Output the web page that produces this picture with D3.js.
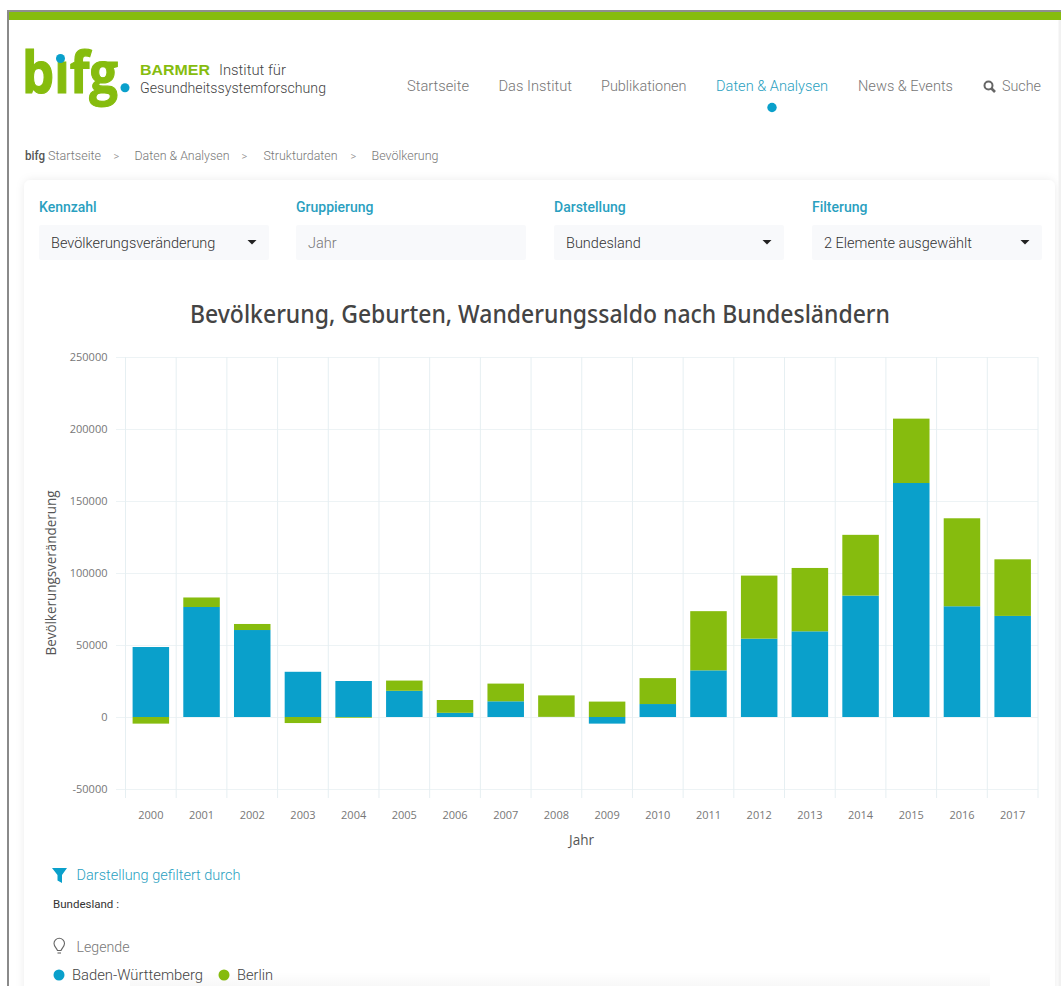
<!DOCTYPE html>
<html lang="de"><head><meta charset="utf-8">
<style>
html,body{margin:0;padding:0;background:#fff;overflow:hidden}
svg{display:block}
text{font-family:"Roboto",sans-serif;font-weight:300}
</style>
<script src="https://cdn.jsdelivr.net/npm/d3@7"></script>
</head><body><svg id="c" width="1061" height="986"></svg>
<script>
const years = ["2000","2001","2002","2003","2004","2005","2006","2007","2008","2009","2010","2011","2012","2013","2014","2015","2016","2017"];
const badenWuerttemberg = [48600,76400,60400,31400,25000,18200,2900,10900,100,-4600,9000,32400,54400,59500,84300,162500,76900,70200];
const berlin = [-4600,6600,4200,-4200,-500,7100,8900,12300,14900,10700,18000,41100,43800,44000,42200,44700,61100,39300];
const yTicks = [-50000,0,50000,100000,150000,200000,250000];
const seriesNames = ["Baden-Württemberg","Berlin"];
const seriesColors = ["#0aa0cb","#86bc0e"];
const navItems = [["Startseite",407,62],["Das Institut",498.5,73.5],["Publikationen",601,85.5],["Daten & Analysen",716,112],["News & Events",858,95],["Suche",1002,39]];
const crumbs = [["Startseite",48,53],["Daten & Analysen",134.5,95],["Strukturdaten",263.5,74],["Bevölkerung",371.5,67]];
const crumbSeps = [[113.5],[241.5],[350.5]];
const filters = [["Kennzahl","Bevölkerungsveränderung",39,230,true],["Gruppierung","Jahr",296,230,false],["Darstellung","Bundesland",554,230,true],["Filterung","2 Elemente ausgewählt",812,230,true]];

const svg = d3.select("#c");
const defs = svg.append("defs");
const f = defs.append("filter").attr("id","sh").attr("x","-5%").attr("y","-5%").attr("width","110%").attr("height","110%");
f.append("feDropShadow").attr("dx",0).attr("dy",0).attr("stdDeviation",4).attr("flood-color","#000").attr("flood-opacity",0.08);

// page frame
svg.append("rect").attr("x",8).attr("y",11).attr("width",1053).attr("height",975).attr("fill","#fff");
svg.append("rect").attr("x",7).attr("y",10).attr("width",2).attr("height",976).attr("fill","#8a8a8a");
svg.append("rect").attr("x",7).attr("y",10).attr("width",1054).attr("height",2).attr("fill","#8f8f8f");
svg.append("rect").attr("x",9).attr("y",12).attr("width",1052).attr("height",8).attr("fill","#86bc0e");

// card
svg.append("rect").attr("x",24).attr("y",180).attr("width",1031).attr("height",830).attr("rx",7).attr("fill","#fff").attr("filter","url(#sh)");
svg.append("rect").attr("x",0).attr("y",0).attr("width",7).attr("height",986).attr("fill","#fff");
svg.append("rect").attr("x",1058.5).attr("y",20).attr("width",2.5).attr("height",966).attr("fill","#f1f1f1");

// logo
const logo = svg.append("g");
logo.append("text").attr("x",22).attr("y",93).attr("font-size",57).attr("fill","#86bc0e").attr("stroke","#86bc0e").attr("stroke-width",1.2)
  .style("font-family","'Open Sans'").style("font-weight",700).attr("textLength",96).attr("lengthAdjust","spacingAndGlyphs").text("bıfg");
logo.append("circle").attr("cx",60.5).attr("cy",58.5).attr("r",4.5).attr("fill","#0aa0cb");
logo.append("circle").attr("cx",125).attr("cy",87.7).attr("r",4.5).attr("fill","#0aa0cb");
logo.append("text").attr("x",140).attr("y",75).attr("font-size",14).attr("fill","#86bc0e").style("font-family","'Liberation Sans'").style("font-weight",700).attr("textLength",70).attr("lengthAdjust","spacingAndGlyphs").text("BARMER");
logo.append("text").attr("x",219).attr("y",75).attr("font-size",15).attr("fill","#444").attr("textLength",67).attr("lengthAdjust","spacingAndGlyphs").text("Institut für");
logo.append("text").attr("x",140).attr("y",93).attr("font-size",15).attr("fill","#444").attr("textLength",186).attr("lengthAdjust","spacingAndGlyphs").text("Gesundheitssystemforschung");

// navigation
svg.append("g").selectAll("text").data(navItems).join("text")
  .attr("x",d=>d[1]).attr("y",91).attr("font-size",14.5)
  .attr("textLength",d=>d[2]).attr("lengthAdjust","spacingAndGlyphs")
  .attr("fill",d=>d[0]==="Daten & Analysen"?"#2a9fbf":"#767676").text(d=>d[0]);
svg.append("circle").attr("cx",772).attr("cy",107.5).attr("r",4.7).attr("fill","#0aa0cb");
const mag = svg.append("g").attr("fill","none").attr("stroke","#666");
mag.append("circle").attr("cx",988.5).attr("cy",85.5).attr("r",4).attr("stroke-width",2);
mag.append("line").attr("x1",991.5).attr("y1",88.5).attr("x2",995).attr("y2",92).attr("stroke-width",2.6);

// breadcrumbs
svg.append("text").attr("x",25).attr("y",160).attr("font-size",12).attr("fill","#555").style("font-weight",500).attr("textLength",20).attr("lengthAdjust","spacingAndGlyphs").text("bifg");
svg.append("g").selectAll("text").data(crumbs).join("text")
  .attr("x",d=>d[1]).attr("y",160).attr("font-size",12).attr("fill","#777")
  .attr("textLength",d=>d[2]).attr("lengthAdjust","spacingAndGlyphs").text(d=>d[0]);
svg.append("g").selectAll("text").data(crumbSeps).join("text")
  .attr("x",d=>d[0]).attr("y",160).attr("font-size",11).attr("fill","#888").text(">");

// filter controls
const fg = svg.append("g").selectAll("g").data(filters).join("g");
fg.append("text").attr("x",d=>d[2]).attr("y",212).attr("font-size",14).attr("fill","#2a9fbf").style("font-weight",500).text(d=>d[0]);
fg.append("rect").attr("x",d=>d[2]).attr("y",225).attr("width",d=>d[3]).attr("height",35).attr("rx",2).attr("fill","#f8f9fb");
fg.append("text").attr("x",d=>d[2]+12).attr("y",247.5).attr("font-size",14.5).attr("fill",d=>d[4]?"#333":"#777").text(d=>d[1]);
fg.filter(d=>d[4]).append("path").attr("transform",d=>`translate(${d[2]+213},241.5)`).attr("d","M-4.5,-1.5L4.5,-1.5L0,3Z").attr("fill","#222");

// title
svg.append("text").attr("x",540).attr("y",323).attr("text-anchor","middle").attr("font-size",24.5).attr("fill","#444").style("font-family","'Noto Sans'").style("font-weight",500)
  .attr("textLength",700).attr("lengthAdjust","spacingAndGlyphs").text("Bevölkerung, Geburten, Wanderungssaldo nach Bundesländern");

// chart
const x = d3.scaleBand().domain(years).range([125.5,1038]).paddingInner(0.28).paddingOuter(0.14).align(0.5);
const step = x.step();
const y = d3.scaleLinear().domain([-50000,250000]).range([789,357]);
const rows = years.map((yr,i)=>({year:yr,[seriesNames[0]]:badenWuerttemberg[i],[seriesNames[1]]:berlin[i]}));
const stacked = d3.stack().keys(seriesNames).offset(d3.stackOffsetDiverging)(rows);

const yAxis = d3.axisLeft(y).tickValues(yTicks).tickFormat(d=>String(d)).tickSize(0).tickPadding(18);
const gy = svg.append("g").attr("transform","translate(125.5,0)").call(yAxis);
gy.select(".domain").remove();
gy.selectAll("text").attr("fill","#777").attr("font-size",11).style("font-family","'Open Sans'").style("font-weight",400);
gy.selectAll(".tick").append("line").attr("x1",-9.5).attr("x2",912.5).attr("stroke","#edf3f5").attr("stroke-width",1);

const vLines = d3.range(years.length+1);
svg.append("g").selectAll("line").data(vLines).join("line")
  .attr("x1",d=>x.range()[0]+d*step).attr("x2",d=>x.range()[0]+d*step)
  .attr("y1",357).attr("y2",798).attr("stroke","#e6eff2").attr("stroke-width",1);

const xAxis = d3.axisBottom(x).tickSize(0).tickPadding(13);
const gx = svg.append("g").attr("transform","translate(0,798)").call(xAxis);
gx.select(".domain").remove();
gx.selectAll("text").attr("fill","#777").attr("font-size",11).style("font-family","'Open Sans'").style("font-weight",400);

svg.append("g").selectAll("g").data(stacked).join("g").attr("fill",(d,i)=>seriesColors[i])
  .selectAll("rect").data(d=>d).join("rect")
  .attr("x",d=>x(d.data.year)).attr("width",x.bandwidth())
  .attr("y",d=>y(Math.max(d[0],d[1]))).attr("height",d=>Math.abs(y(d[0])-y(d[1])));

svg.append("text").attr("x",581.5).attr("y",845).attr("text-anchor","middle").attr("font-size",14).attr("fill","#555").style("font-family","'Open Sans'").style("font-weight",400).attr("textLength",25).attr("lengthAdjust","spacingAndGlyphs").text("Jahr");
svg.append("text").attr("transform","translate(56,573) rotate(-90)").attr("text-anchor","middle").attr("font-size",14).attr("fill","#555").style("font-family","'Open Sans'").style("font-weight",400).attr("textLength",165).attr("lengthAdjust","spacingAndGlyphs").text("Bevölkerungsveränderung");

// filter note
svg.append("path").attr("d","M52,868H67L62,875V883L57.5,880.5V875Z").attr("fill","#0aa0cb");
svg.append("text").attr("x",76.5).attr("y",880).attr("font-size",14.5).attr("fill","#2a9fbf").attr("textLength",164).attr("lengthAdjust","spacingAndGlyphs").text("Darstellung gefiltert durch");
svg.append("text").attr("x",53).attr("y",908).attr("font-size",11).attr("fill","#333").style("font-weight",400).attr("textLength",66).attr("lengthAdjust","spacingAndGlyphs").text("Bundesland :");

// legend
const bulb = svg.append("g").attr("fill","none").attr("stroke","#666").attr("stroke-width",1.1);
bulb.append("path").attr("d","M57.5,950.5C56.5,948 54,946.5 54,943.5A5.2,5.2 0 0 1 64.5,943.5C64.5,946.5 62,948 61,950.5Z");
bulb.append("line").attr("x1",57.5).attr("x2",61).attr("y1",953).attr("y2",953);
svg.append("text").attr("x",76.5).attr("y",952).attr("font-size",14.5).attr("fill","#777").attr("textLength",53).attr("lengthAdjust","spacingAndGlyphs").text("Legende");
const legendX = [59,224];
const legendTx = [72,237];
const legendW = [131,36];
const lg = svg.append("g").selectAll("g").data(seriesNames).join("g");
lg.append("circle").attr("cx",(d,i)=>legendX[i]).attr("cy",975).attr("r",5.5).attr("fill",(d,i)=>seriesColors[i]);
lg.append("text").attr("x",(d,i)=>legendTx[i]).attr("y",980).attr("font-size",14.5).attr("fill","#444").attr("textLength",(d,i)=>legendW[i]).attr("lengthAdjust","spacingAndGlyphs").text(d=>d);

// bottom fade
const g = defs.append("linearGradient").attr("id","fade").attr("x1",0).attr("x2",0).attr("y1",0).attr("y2",1);
g.append("stop").attr("offset",0).attr("stop-color","#000").attr("stop-opacity",0);
g.append("stop").attr("offset",1).attr("stop-color","#000").attr("stop-opacity",0.03);
svg.append("rect").attr("x",130).attr("y",972).attr("width",860).attr("height",14).attr("fill","url(#fade)");
</script></body></html>
